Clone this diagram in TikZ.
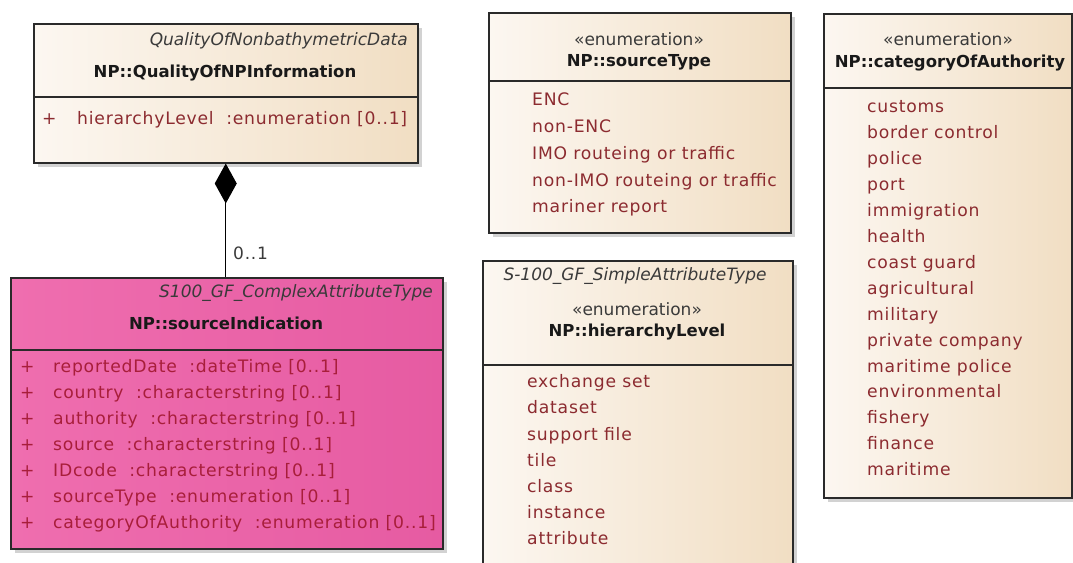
\documentclass[tikz,border=0pt]{standalone}
\usepackage{fontspec}
\setmainfont{DejaVu Sans}
\newfontfamily\entryfont[LetterSpace=4.5]{DejaVu Sans}
\usetikzlibrary{shadows,arrows.meta}

\definecolor{boxline}{HTML}{2A2A2A}
\definecolor{creamL}{HTML}{FCF7F1}
\definecolor{creamR}{HTML}{F1DEC3}
\definecolor{pinkL}{HTML}{EF6EAF}
\definecolor{pinkR}{HTML}{E65BA2}
\definecolor{entryred}{HTML}{8C2B30}
\definecolor{pinkentry}{HTML}{A81E3A}
\definecolor{headgray}{HTML}{3A3A3A}

\begin{document}
\begin{tikzpicture}[x=1pt,y=-1pt,
  classbox/.style={draw=boxline, line width=1.5pt, anchor=north west, inner sep=0pt,
    drop shadow={shadow xshift=4pt, shadow yshift=-4pt, fill=black!35}},
  cream/.style={left color=creamL, right color=creamR},
  hotpink/.style={left color=pinkL, right color=pinkR},
  sepline/.style={draw=boxline, line width=1.5pt},
  stereo/.style={font=\fontsize{17}{20}\selectfont\itshape, text=headgray, inner sep=0pt},
  enumtag/.style={font=\fontsize{17}{20}\selectfont, text=headgray, inner sep=0pt, anchor=mid},
  classname/.style={font=\fontsize{16.5}{20}\selectfont\bfseries, text=black!90, inner sep=0pt, anchor=mid},
  entry/.style={font=\fontsize{17.2}{20}\selectfont\entryfont, text=entryred, inner sep=0pt, anchor=mid west},
  pentry/.style={entry, text=pinkentry},
  comp/.style={draw=black, line width=1.2pt, {Diamond[length=40pt,width=22pt]}-},
  mult/.style={font=\fontsize{17}{20}\selectfont\entryfont, text=headgray, inner sep=0pt, anchor=mid west}
]
\useasboundingbox (0,0) rectangle (1073,562);
\clip (0,0) rectangle (1073,562);

% ---------- NP::QualityOfNPInformation ----------
\node[classbox, cream, minimum width=384pt, minimum height=139pt] (q) at (33,23) {};
\draw[sepline] (q.west |- 0,97) -- (q.east |- 0,97);
\node[stereo, anchor=mid east] (q-st) at (408,43) {QualityOfNonbathymetricData};
\node[classname] (q-name) at (225,75) {NP::QualityOfNPInformation};
\node[entry] (q-p) at (42,122) {+};
\node[entry] (q-a) at (77,122) {hierarchyLevel\ \ :enumeration [0..1]};

% ---------- NP::sourceIndication ----------
\node[classbox, hotpink, minimum width=432pt, minimum height=271pt] (s) at (10,277) {};
\draw[sepline] (s.west |- 0,350) -- (s.east |- 0,350);
\node[stereo, anchor=mid east] (s-st) at (433,295) {S100\_GF\_ComplexAttributeType};
\node[classname] (s-name) at (226,327) {NP::sourceIndication};
\foreach \t [count=\i from 0] in {
  reportedDate\ \ :dateTime [0..1],
  country\ \ :characterstring [0..1],
  authority\ \ :characterstring [0..1],
  source\ \ :characterstring [0..1],
  IDcode\ \ :characterstring [0..1],
  sourceType\ \ :enumeration [0..1],
  categoryOfAuthority\ \ :enumeration [0..1]} {
  \node[pentry] (s-p\i) at (20,{370+26*\i}) {+};
  \node[pentry] (s-a\i) at (53,{370+26*\i}) {\t};
}

% composition
\draw[comp] (q.south) -- (q.south |- s.north);
\node[mult] (m) at (233,257) {0..1};

% ---------- NP::sourceType ----------
\node[classbox, cream, minimum width=302pt, minimum height=220pt] (st) at (488,12) {};
\draw[sepline] (st.west |- 0,81) -- (st.east |- 0,81);
\node[enumtag] (st-tag) at (639,43) {«enumeration»};
\node[classname] (st-name) at (639,64) {NP::sourceType};
\foreach \t [count=\i from 0] in {ENC, non-ENC, IMO routeing or traffic,
  non-IMO routeing or traffic, mariner report} {
  \node[entry] (st-\i) at (532,{103+26.8*\i}) {\t};
}

% ---------- NP::hierarchyLevel ----------
\node[classbox, cream, minimum width=310pt, minimum height=320pt] (hl) at (482,260) {};
\draw[sepline] (hl.west |- 0,365) -- (hl.east |- 0,365);
\node[stereo, anchor=mid] (hl-st) at (635,278) {S-100\_GF\_SimpleAttributeType};
\node[enumtag] (hl-tag) at (637,313) {«enumeration»};
\node[classname] (hl-name) at (637,334) {NP::hierarchyLevel};
\foreach \t [count=\i from 0] in {exchange set, dataset, support file, tile,
  class, instance, attribute} {
  \node[entry] (hl-\i) at (527,{385+26.2*\i}) {\t};
}

% ---------- NP::categoryOfAuthority ----------
\node[classbox, cream, minimum width=248pt, minimum height=484pt] (ca) at (823,13) {};
\draw[sepline] (ca.west |- 0,88) -- (ca.east |- 0,88);
\node[enumtag] (ca-tag) at (948,43) {«enumeration»};
\node[classname] (ca-name) at (950,65) {NP::categoryOfAuthority};
\foreach \t [count=\i from 0] in {customs, border control, police, port,
  immigration, health, coast guard, agricultural, military, private company,
  maritime police, environmental, fishery, finance, maritime} {
  \node[entry] (ca-\i) at (867,{110+25.93*\i}) {\t};
}
\end{tikzpicture}
\end{document}
